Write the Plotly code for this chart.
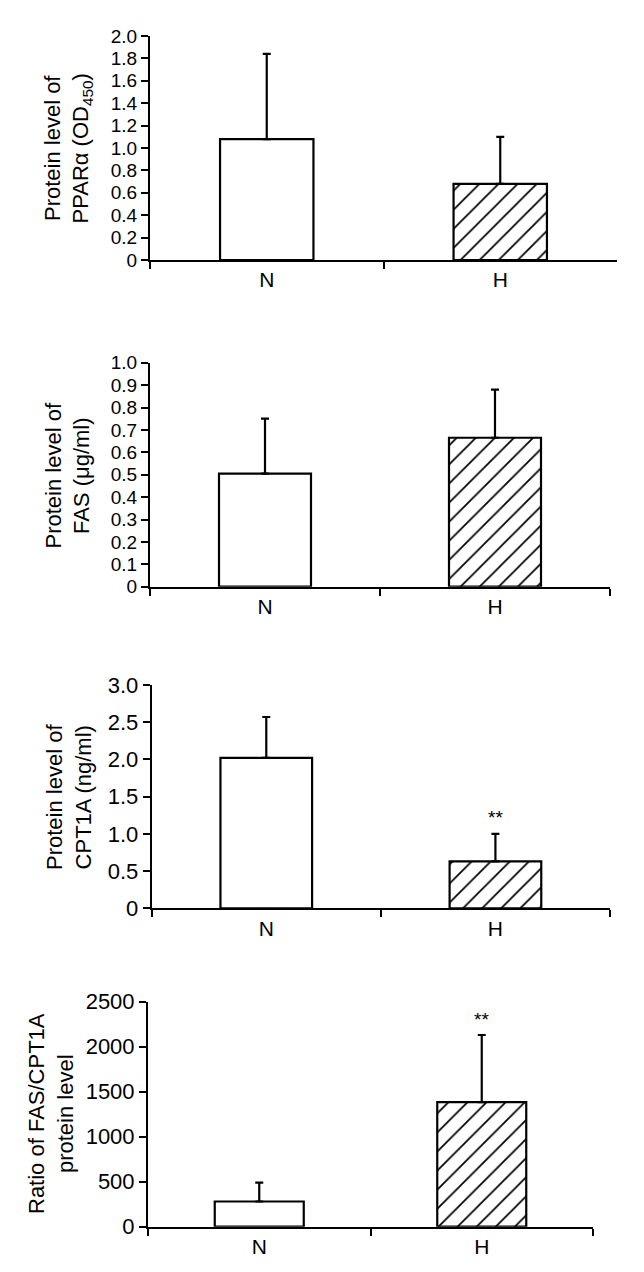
import plotly.graph_objects as go

# --- data ---
groups = ["N", "H"]

ppara_mean = [1.08, 0.68]
ppara_sd = [0.76, 0.42]

fas_mean = [0.505, 0.665]
fas_sd = [0.245, 0.215]

cpt1a_mean = [2.02, 0.63]
cpt1a_sd = [0.55, 0.37]

ratio_mean = [280, 1385]
ratio_sd = [210, 745]

ppara_ticks = [0, 0.2, 0.4, 0.6, 0.8, 1.0, 1.2, 1.4, 1.6, 1.8, 2.0]
ppara_ticktext = ["0", "0.2", "0.4", "0.6", "0.8", "1.0", "1.2", "1.4", "1.6", "1.8", "2.0"]
fas_ticks = [0, 0.1, 0.2, 0.3, 0.4, 0.5, 0.6, 0.7, 0.8, 0.9, 1.0]
fas_ticktext = ["0", "0.1", "0.2", "0.3", "0.4", "0.5", "0.6", "0.7", "0.8", "0.9", "1.0"]
cpt1a_ticks = [0, 0.5, 1.0, 1.5, 2.0, 2.5, 3.0]
cpt1a_ticktext = ["0", "0.5", "1.0", "1.5", "2.0", "2.5", "3.0"]
ratio_ticks = [0, 500, 1000, 1500, 2000, 2500]
ratio_ticktext = ["0", "500", "1000", "1500", "2000", "2500"]

panels = [
    dict(mean=ppara_mean, sd=ppara_sd, ticks=ppara_ticks, ticktext=ppara_ticktext,
         title="Protein level of<br>PPARα (OD<sub>450</sub>)", stars=None, tfs=19),
    dict(mean=fas_mean, sd=fas_sd, ticks=fas_ticks, ticktext=fas_ticktext,
         title="Protein level of<br>FAS (μg/ml)", stars=None, tfs=19),
    dict(mean=cpt1a_mean, sd=cpt1a_sd, ticks=cpt1a_ticks, ticktext=cpt1a_ticktext,
         title="Protein level of<br>CPT1A (ng/ml)", stars="**", tfs=22),
    dict(mean=ratio_mean, sd=ratio_sd, ticks=ratio_ticks, ticktext=ratio_ticktext,
         title="Ratio of FAS/CPT1A<br>protein level", stars="**", tfs=22),
]

# page body has an 8px margin, so the figure is shrunk and shifted by that much
PAD = 8
W, H = 644 - PAD, 1272 - PAD
FONT = "Liberation Sans, Arial, sans-serif"

# page-pixel boxes of each plot area: (left, right, top, bottom) and title centre (x, y)
boxes = [
    (150, 617, 36, 260, 67.5, 148),
    (150, 610, 362.7, 586.7, 67.5, 475),
    (151.7, 610, 685, 908.3, 69, 797),
    (148, 593, 1001.7, 1226.7, 51, 1114),
]


def px(x):
    return (x - PAD) / W


def py(y):
    return 1 - (y - PAD) / H


fig = go.Figure()
annotations = []
layout = {}

for i, (p, b) in enumerate(zip(panels, boxes)):
    n = "" if i == 0 else str(i + 1)
    xa, ya = "x" + n, "y" + n
    l, r, t, bt, tx, ty = b

    fig.add_trace(go.Bar(
        x=groups, y=p["mean"], xaxis=xa, yaxis=ya, width=0.4,
        marker=dict(
            color="white",
            line=dict(color="black", width=2.2),
            pattern=dict(shape=["", "/"], fgcolor="black", fgopacity=1, bgcolor="white",
                         size=13.5, solidity=0.13),
        ),
        error_y=dict(type="data", array=p["sd"], arrayminus=[0, 0], symmetric=False,
                     color="black", thickness=2.2, width=4),
        showlegend=False,
    ))

    layout["xaxis" + n] = dict(
        domain=[px(l), px(r)], anchor=ya, type="category", range=[-0.5, 1.5],
        showline=True, linecolor="black", linewidth=2,
        ticks="outside", tickson="boundaries", ticklen=7, tickwidth=2, tickcolor="black",
        tickfont=dict(size=21, color="black", family=FONT),
        showgrid=False, zeroline=False, fixedrange=True, automargin=False,
    )
    layout["yaxis" + n] = dict(
        domain=[py(bt), py(t)], anchor=xa, range=[0, p["ticks"][-1]],
        tickvals=p["ticks"], ticktext=p["ticktext"],
        showline=True, linecolor="black", linewidth=2,
        ticks="outside", ticklen=7, tickwidth=2, tickcolor="black",
        tickfont=dict(size=p["tfs"], color="black", family=FONT),
        showgrid=False, zeroline=False, fixedrange=True, automargin=False,
    )

    annotations.append(dict(
        text=p["title"], textangle=-90, xref="paper", yref="paper",
        x=px(tx), y=py(ty), xanchor="center", yanchor="middle",
        showarrow=False, font=dict(size=22, color="black", family=FONT),
    ))

    if p["stars"]:
        annotations.append(dict(
            text=p["stars"], xref=xa, yref=ya, x=groups[1],
            y=p["mean"][1] + p["sd"][1], yshift=16, showarrow=False,
            font=dict(size=19, color="black", family=FONT),
        ))

fig.update_layout(
    width=W, height=H,
    margin=dict(l=0, r=0, t=0, b=0),
    paper_bgcolor="white", plot_bgcolor="white",
    font=dict(family=FONT, color="black"),
    annotations=annotations,
    **layout,
)

fig.write_html("out.html")
